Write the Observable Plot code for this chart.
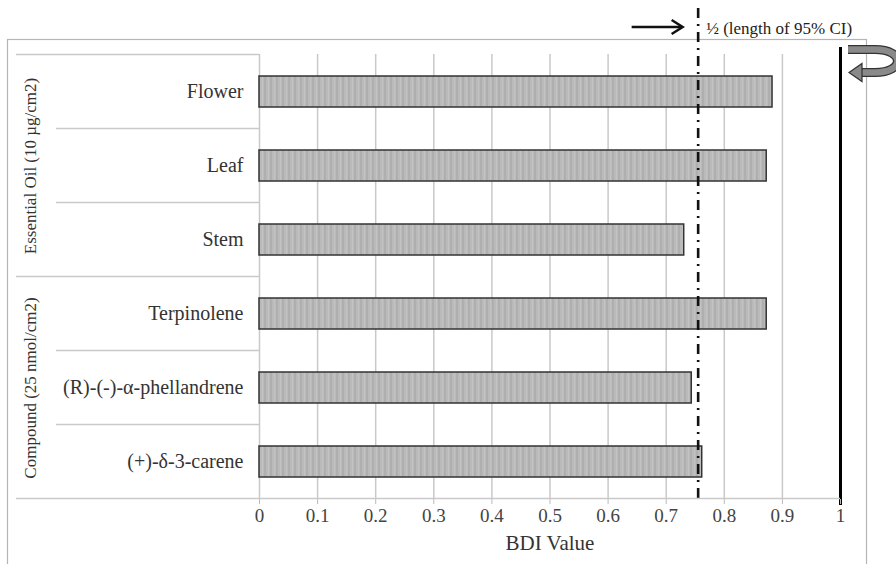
<!DOCTYPE html>
<html><head><meta charset="utf-8">
<script src="https://cdn.jsdelivr.net/npm/d3@7"></script>
<script src="https://cdn.jsdelivr.net/npm/@observablehq/plot@0.6"></script>
<style>body{margin:0;background:#fff} svg{display:block}</style>
</head><body><div id="chart"></div>
<script>
const categories = ["Flower", "Leaf", "Stem", "Terpinolene", "(R)-(-)-α-phellandrene", "(+)-δ-3-carene"];
const bdiValues = [0.883, 0.873, 0.731, 0.873, 0.744, 0.762];
const groupLabels = ["Essential Oil (10 µg/cm2)", "Compound (25 nmol/cm2)"];
const groupMembers = [["Flower", "Leaf", "Stem"], ["Terpinolene", "(R)-(-)-α-phellandrene", "(+)-δ-3-carene"]];
const xTicks = [0, 0.1, 0.2, 0.3, 0.4, 0.5, 0.6, 0.7, 0.8, 0.9, 1];
const ciHalf = 0.755;
const refLine = 1;
const annotation = "½ (length of 95% CI)";
const xTitle = "BDI Value";

const data = categories.map((c, i) => ({category: c, value: bdiValues[i]}));
const groups = groupLabels.map((g, i) => ({label: g, mid: groupMembers[i][1]}));

const chart = Plot.plot({
  width: 896, height: 564,
  marginLeft: 259, marginRight: 56, marginTop: 54, marginBottom: 65,
  style: {fontFamily: "'Liberation Serif', 'Times New Roman', serif", background: "white", color: "#333"},
  x: {domain: [0, 1], label: null},
  y: {domain: categories, paddingInner: 0.58, paddingOuter: 0.29, label: null},
  marks: [
    Plot.frame({stroke: "#b5b5b5", strokeWidth: 1.2, insetLeft: -252, insetTop: -15, insetRight: -26, insetBottom: -80}),
    Plot.gridX(xTicks, {stroke: "#c9c9c9", strokeOpacity: 1, strokeWidth: 1.5}),
    Plot.barX(data, {y: "category", x: "value", fill: "url(#stripes)", stroke: "#333", strokeWidth: 1.5}),
    Plot.ruleX([ciHalf], {stroke: "#111", strokeWidth: 2.6, strokeDasharray: "10,6,2,6", insetTop: -46, insetBottom: -2}),
    Plot.ruleX([refLine], {stroke: "#000", strokeWidth: 3, insetTop: -7, insetBottom: -6}),
    Plot.axisX(xTicks, {tickSize: 5, tickPadding: 4, fontSize: 19, stroke: "#bbb", fill: "#444", tickFormat: d => String(d), label: null}),
    Plot.axisY({tickSize: 0, tickPadding: 16, fontSize: 20, fill: "#333", label: null}),
    Plot.text(groups, {y: "mid", text: "label", frameAnchor: "left", textAnchor: "middle", lineAnchor: "middle", dx: -229, rotate: -90, fontSize: 17, fill: "#333"}),
    Plot.text([{label: annotation, x: ciHalf}], {x: "x", text: "label", frameAnchor: "top", lineAnchor: "middle", dx: 8, dy: -26, textAnchor: "start", fontSize: 17, fill: "#222"}),
    Plot.text([{t: xTitle}], {text: "t", frameAnchor: "bottom", lineAnchor: "middle", dy: 44, fontSize: 21, fill: "#333"})
  ]
});

document.getElementById("chart").appendChild(chart);
const svg = d3.select(chart);

// stripe pattern for bars
const defs = svg.insert("defs", ":first-child");
const pat = defs.append("pattern").attr("id", "stripes").attr("patternUnits", "userSpaceOnUse")
  .attr("width", 6).attr("height", 10);
pat.append("rect").attr("width", 6).attr("height", 10).attr("fill", "#bababa");
pat.append("rect").attr("x", 0).attr("width", 2).attr("height", 10).attr("fill", "#afafaf");
pat.append("rect").attr("x", 4).attr("width", 1).attr("height", 10).attr("fill", "#c3c3c3");

// table lines in the left margin, derived from the y band scale
const ys = chart.scale("y");
const xs = chart.scale("x");
const pad = (ys.step - ys.bandwidth) / 2;
const g = svg.append("g").attr("stroke", "#c9c9c9").attr("stroke-width", 1.5);
const firsts = new Set(groupMembers.map(m => m[0]));
categories.forEach(c => {
  const yy = ys.apply(c) - pad;
  g.append("line").attr("x1", firsts.has(c) ? 16 : 56).attr("x2", xs.apply(0)).attr("y1", yy).attr("y2", yy);
});
const yb = ys.apply(categories[categories.length - 1]) - pad + ys.step;
g.append("line").attr("x1", 16).attr("x2", xs.apply(1)).attr("y1", yb).attr("y2", yb);

// annotation arrow pointing to the CI line
const xc = xs.apply(ciHalf);
const ay = 27;
const ag = svg.append("g").attr("stroke", "#111").attr("stroke-width", 2.5).attr("fill", "none");
ag.append("line").attr("x1", xc - 66).attr("x2", xc - 16).attr("y1", ay).attr("y2", ay);
ag.append("path").attr("d", `M${xc - 26},${ay - 7} L${xc - 15},${ay} L${xc - 26},${ay + 7}`).attr("stroke-linejoin", "miter");

// curved return arrow icon at top right
const cg = svg.append("g");
const curve = "M848,49.5 L875,49.5 C905,49.5 905,72.5 875,72.5 L860,72.5";
cg.append("path").attr("d", curve).attr("fill", "none").attr("stroke", "#333").attr("stroke-width", 9);
cg.append("path").attr("d", curve).attr("fill", "none").attr("stroke", "#8a8a8a").attr("stroke-width", 6.5);
cg.append("path").attr("d", "M849,72.5 L862,63.5 L862,81.5 Z").attr("fill", "#8a8a8a").attr("stroke", "#333").attr("stroke-width", 1.2);
</script>
</body></html>
